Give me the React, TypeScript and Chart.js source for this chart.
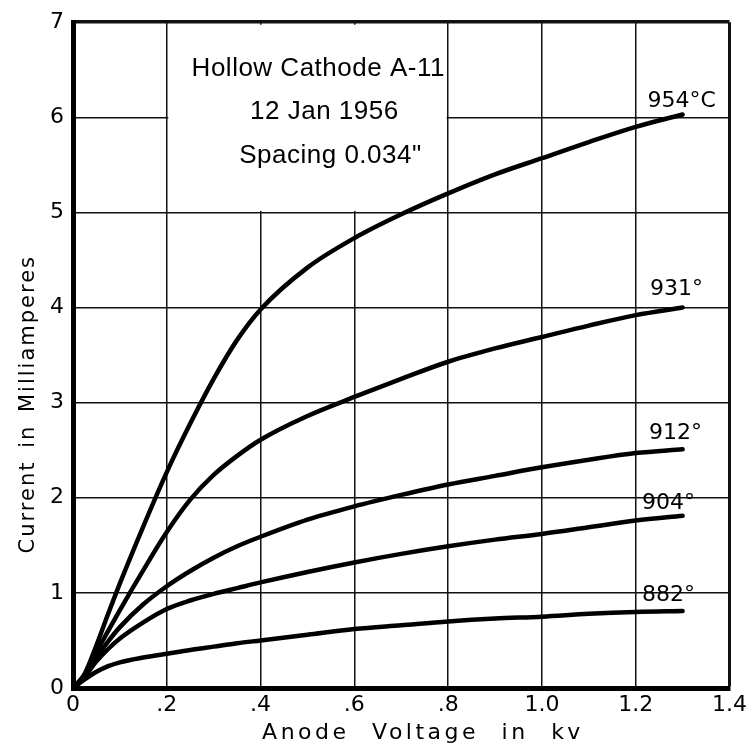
import React, { useEffect, useRef } from 'react';
import { Chart, registerables } from 'chart.js';

Chart.register(...registerables);

// ---- data ----
const voltageKv = [0, 0.025, 0.05, 0.075, 0.1, 0.15, 0.2, 0.25, 0.3, 0.35, 0.4, 0.5, 0.6, 0.7, 0.8, 0.9, 1.0, 1.1, 1.2, 1.3];
const current954 = [0, 0.15, 0.45, 0.78, 1.1, 1.7, 2.27, 2.78, 3.25, 3.66, 3.98, 4.42, 4.73, 4.98, 5.2, 5.4, 5.57, 5.74, 5.9, 6.03];
const current931 = [0, 0.14, 0.38, 0.6, 0.82, 1.24, 1.64, 1.98, 2.24, 2.44, 2.61, 2.86, 3.06, 3.25, 3.43, 3.57, 3.69, 3.81, 3.92, 4.0];
const current912 = [0, 0.13, 0.32, 0.49, 0.64, 0.88, 1.07, 1.23, 1.37, 1.49, 1.59, 1.77, 1.91, 2.03, 2.14, 2.23, 2.32, 2.4, 2.47, 2.51];
const current904 = [0, 0.12, 0.28, 0.41, 0.52, 0.69, 0.83, 0.92, 0.99, 1.05, 1.11, 1.22, 1.32, 1.41, 1.49, 1.56, 1.62, 1.69, 1.76, 1.81];
const current882 = [0, 0.09, 0.17, 0.23, 0.27, 0.32, 0.36, 0.4, 0.435, 0.47, 0.5, 0.56, 0.62, 0.66, 0.7, 0.73, 0.75, 0.78, 0.8, 0.81];
const seriesLabels = ['954°C', '931°', '912°', '904°', '882°'];
const xTickLabels = ['0', '.2', '.4', '.6', '.8', '1.0', '1.2', '1.4'];
const yTickLabels = ['0', '1', '2', '3', '4', '5', '6', '7'];
const noteLines = ['Hollow Cathode A-11', '12 Jan 1956', 'Spacing 0.034"'];
const xTitle = 'Anode Voltage in kv';
const yTitle = 'Current in Milliamperes';

// ---- placement / style (not data) ----
const noteAnchors = [
  [0.523, 6.51],
  [0.536, 6.06],
  [0.549, 5.59],
];
const noteBox = { x0: 0.2, x1: 0.8, y0: 5, y1: 7 };
const labelOffsets = [
  [-1, -13],
  [-6, -18],
  [-7, -16],
  [-14, -13],
  [-14, -16],
];

const seriesValues = [current954, current931, current912, current904, current882];

const annotate = {
  id: 'annotate',
  beforeDatasetsDraw(chart: any) {
    const { ctx, scales } = chart;
    const x = scales.x;
    const y = scales.y;
    ctx.save();
    ctx.fillStyle = '#ffffff';
    const l = x.getPixelForValue(noteBox.x0) + 1.5;
    const r = x.getPixelForValue(noteBox.x1) - 1.5;
    const t = y.getPixelForValue(noteBox.y1) + 2.5;
    const b = y.getPixelForValue(noteBox.y0) - 1.5;
    ctx.fillRect(l, t, r - l, b - t);
    ctx.restore();
  },
  afterDatasetsDraw(chart: any) {
    const { ctx, scales } = chart;
    const x = scales.x;
    const y = scales.y;
    ctx.save();
    ctx.fillStyle = '#000';
    ctx.textAlign = 'center';
    ctx.textBaseline = 'middle';
    ctx.font = '26px "Liberation Sans"';
    (ctx as any).letterSpacing = '0.5px';
    noteLines.forEach((line, i) => {
      ctx.fillText(line, x.getPixelForValue(noteAnchors[i][0]), y.getPixelForValue(noteAnchors[i][1]));
    });
    ctx.font = '22px "DejaVu Sans"';
    (ctx as any).letterSpacing = '0px';
    chart.data.datasets.forEach((ds: any, i: number) => {
      const last = ds.data[ds.data.length - 1];
      const px = x.getPixelForValue(last.x) + labelOffsets[i][0];
      const py = y.getPixelForValue(last.y) + labelOffsets[i][1];
      ctx.fillText(seriesLabels[i], px, py);
    });
    ctx.restore();
  },
  afterDraw(chart: any) {
    const { ctx, chartArea } = chart;
    ctx.save();
    ctx.fillStyle = '#000';
    ctx.textAlign = 'center';
    ctx.textBaseline = 'middle';
    ctx.font = '22px "DejaVu Sans"';
    (ctx as any).letterSpacing = '3.5px';
    (ctx as any).wordSpacing = '12px';
    ctx.fillText(xTitle, chartArea.left + 350, chartArea.bottom + 45);
    ctx.translate(29, chartArea.top + 382);
    ctx.rotate(-Math.PI / 2);
    ctx.font = '21px "DejaVu Sans"';
    (ctx as any).letterSpacing = '2px';
    (ctx as any).wordSpacing = '4px';
    ctx.fillText(yTitle, 0, 0);
    ctx.restore();
  },
};

export default function App() {
  const ref = useRef<HTMLCanvasElement | null>(null);

  useEffect(() => {
    if (!ref.current) return;
    const datasets = seriesValues.map((vals, i) => ({
      label: seriesLabels[i],
      data: voltageKv.map((v, j) => ({ x: v, y: vals[j] })),
      showLine: true,
      borderColor: '#000',
      backgroundColor: '#000',
      borderWidth: 4.5,
      borderCapStyle: 'round',
      borderJoinStyle: 'round',
      pointRadius: 0,
      cubicInterpolationMode: 'monotone',
      fill: false,
    }));

    const chart = new Chart(ref.current, {
      type: 'scatter',
      data: { datasets } as any,
      options: {
        animation: false,
        responsive: false,
        devicePixelRatio: 1,
        layout: { padding: { top: 18, right: 17, left: 0, bottom: 0 } },
        plugins: {
          legend: { display: false },
          tooltip: { enabled: false },
          title: { display: false },
        },
        scales: {
          x: {
            type: 'linear',
            min: 0,
            max: 1.4,
            afterFit: (s: any) => {
              s.height = 59;
            },
            ticks: {
              stepSize: 0.2,
              padding: 4,
              color: '#000',
              font: { family: 'DejaVu Sans', size: 22 },
              callback: (_v: any, i: number) => xTickLabels[i],
            },
            grid: {
              color: '#111',
              lineWidth: (c: any) => (c.tick && Math.abs(c.tick.value - 1.4) < 1e-6 ? 3 : 1.5),
              drawTicks: false,
            },
            border: { display: true, color: '#000', width: 5 },
          },
          y: {
            type: 'linear',
            min: 0,
            max: 7,
            afterFit: (s: any) => {
              s.width = 73;
            },
            ticks: {
              stepSize: 1,
              padding: 9,
              color: '#000',
              font: { family: 'DejaVu Sans', size: 22 },
              callback: (_v: any, i: number) => yTickLabels[i],
            },
            grid: {
              color: '#111',
              lineWidth: (c: any) => (c.tick && c.tick.value === 7 ? 3.5 : 1.5),
              drawTicks: false,
            },
            border: { display: true, color: '#000', width: 5 },
          },
        },
      } as any,
      plugins: [annotate],
    });
    return () => chart.destroy();
  }, []);

  return (
    <div style={{ position: 'fixed', left: 0, top: 0, width: 751, height: 747, background: '#fff' }}>
      <canvas ref={ref} width={751} height={747} style={{ display: 'block', width: 751, height: 747 }} />
    </div>
  );
}
